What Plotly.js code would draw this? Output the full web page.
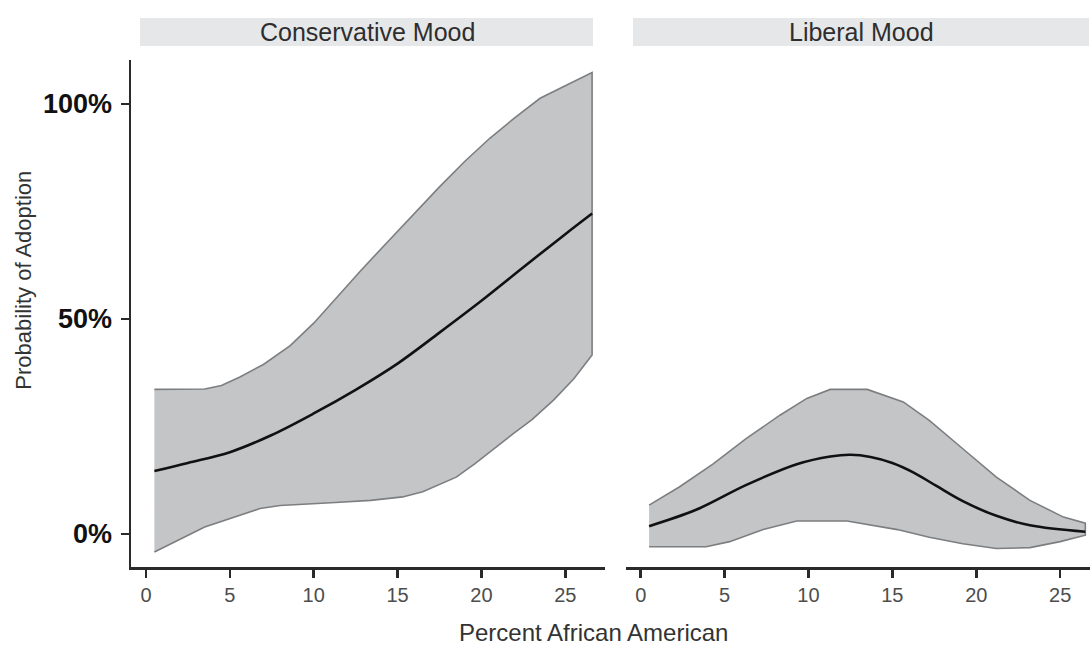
<!DOCTYPE html>
<html>
<head>
<meta charset="utf-8">
<script src="https://cdn.plot.ly/plotly-3.0.1.min.js"></script>
<style>html,body{margin:0;padding:0;background:#fff;}#chart{width:1090px;height:646px;}</style>
</head>
<body>
<div id="chart"></div>
<script>
// ---- Data ----
const panelTitles = ["Conservative Mood", "Liberal Mood"];
const xTicks = [0, 5, 10, 15, 20, 25];
const yTicks = [0, 50, 100];
const yTickLabels = ["0%", "50%", "100%"];

// Conservative Mood
const consUpperX = [0.5, 2, 3.5, 4.5, 5.6, 7, 8.6, 10, 11.2, 12.8, 14.5, 16, 17.5, 19, 20.5, 22, 23.5, 25, 26.6];
const consUpperY = [33.6, 33.6, 33.7, 34.5, 36.5, 39.4, 43.8, 49.0, 54.2, 61.2, 68.3, 74.6, 80.7, 86.6, 92.0, 96.8, 101.3, 104.2, 107.3];
const consLowerX = [0.5, 2, 3.5, 5, 6.8, 8, 9.2, 11.3, 13.4, 15.3, 16.5, 17.2, 18.5, 19.6, 21, 21.9, 23, 24.3, 25.5, 26.6];
const consLowerY = [-4.2, -1.3, 1.6, 3.5, 5.9, 6.6, 6.9, 7.3, 7.8, 8.6, 9.8, 10.9, 13.2, 16.3, 20.5, 23.3, 26.5, 31.1, 36.0, 41.6];
const consMidX = [0.5, 2.5, 5, 7.5, 10, 12.5, 15, 17.5, 20, 22.5, 25, 26.6];
const consMidY = [14.6, 16.5, 19.0, 23.0, 28.0, 33.5, 39.6, 46.8, 54.2, 62.0, 69.7, 74.5];

// Liberal Mood
const libUpperX = [0.5, 2.3, 4.3, 6.3, 8.3, 9.9, 11.3, 13.5, 15.65, 17.2, 19.2, 21.2, 23.2, 25.2, 26.5];
const libUpperY = [6.7, 10.9, 16.2, 22.2, 27.6, 31.5, 33.6, 33.6, 30.7, 26.4, 19.8, 13.2, 7.8, 3.9, 2.5];
const libLowerX = [0.5, 3.9, 5.3, 7.3, 9.3, 12.3, 15.3, 17.2, 19.2, 21.2, 23.2, 25.0, 26.5];
const libLowerY = [-3.0, -3.0, -1.8, 1.0, 3.0, 3.0, 1.0, -0.8, -2.3, -3.4, -3.2, -1.8, -0.3];
const libMidX = [0.5, 3.3, 6.3, 9.3, 11.3, 12.5, 13.7, 15.0, 16.3, 17.6, 19.2, 21.2, 23.2, 26.5];
const libMidY = [1.8, 5.6, 11.4, 16.2, 18.0, 18.4, 17.9, 16.5, 14.2, 11.2, 7.6, 4.2, 2.0, 0.5];

// ---- Layout geometry (pixels) ----
const W = 1090, H = 646;
const plotTop = 60, plotBottom = 566.7;
const mT = plotTop, mB = H - plotBottom;
const ph = plotBottom - plotTop;
const pxX = p => p / W;
const pxY = p => (plotBottom - p) / ph;

const ribbonFill = "#c4c5c7";
const ribbonLine = "#7d7e80";
const FONT = "Liberation Sans, Arial, sans-serif";

function ribbon(ux, uy, lx, ly, xa, ya) {
  return {
    x: ux.concat(lx.slice().reverse()),
    y: uy.concat(ly.slice().reverse()),
    xaxis: xa, yaxis: ya,
    type: "scatter", mode: "lines",
    fill: "toself", fillcolor: ribbonFill,
    line: {color: ribbonLine, width: 1.6},
    hoverinfo: "skip", showlegend: false
  };
}
function mid(x, y, xa, ya) {
  return {
    x: x, y: y, xaxis: xa, yaxis: ya,
    type: "scatter", mode: "lines",
    line: {color: "#111111", width: 2.6, shape: "spline", smoothing: 1},
    showlegend: false
  };
}

const data = [
  ribbon(consUpperX, consUpperY, consLowerX, consLowerY, "x", "y"),
  mid(consMidX, consMidY, "x", "y"),
  ribbon(libUpperX, libUpperY, libLowerX, libLowerY, "x2", "y2"),
  mid(libMidX, libMidY, "x2", "y2")
];

const xCommon = {
  tickmode: "array", tickvals: xTicks, ticks: "outside", ticklen: 8, tickwidth: 2.5, tickcolor: "#2a2a2a",
  showline: true, linecolor: "#2a2a2a", linewidth: 2.5,
  showgrid: false, zeroline: false,
  tickfont: {family: FONT, size: 20, color: "#4d4d4d"},
  fixedrange: true
};
const yRange = [-7.7, 110.2];

const layout = {
  width: W, height: H,
  margin: {l: 0, r: 0, t: mT, b: mB, pad: 0},
  paper_bgcolor: "#ffffff", plot_bgcolor: "#ffffff",
  showlegend: false,
  xaxis: Object.assign({}, xCommon, {domain: [pxX(131), pxX(605)], range: [-0.895, 27.37], anchor: "y"}),
  xaxis2: Object.assign({}, xCommon, {domain: [pxX(626), 1], range: [-0.876, 26.78], anchor: "y2"}),
  yaxis: {
    domain: [0, 1], range: yRange, anchor: "x",
    tickmode: "array", tickvals: yTicks, ticktext: yTickLabels,
    ticks: "outside", ticklen: 8, tickwidth: 2.5, tickcolor: "#2a2a2a",
    ticklabelstandoff: 3,
    showline: true, linecolor: "#2a2a2a", linewidth: 2.5,
    showgrid: false, zeroline: false,
    tickfont: {family: FONT, size: 27, color: "#111111", weight: "bold"},
    fixedrange: true
  },
  yaxis2: {
    domain: [0, 1], range: yRange, anchor: "x2",
    showticklabels: false, ticks: "", showline: false, showgrid: false, zeroline: false,
    fixedrange: true
  },
  shapes: [
    {type: "rect", xref: "paper", yref: "paper", x0: pxX(140), x1: pxX(593), y0: pxY(46), y1: pxY(18),
     fillcolor: "#e6e7e9", line: {width: 0}, layer: "below"},
    {type: "rect", xref: "paper", yref: "paper", x0: pxX(633), x1: pxX(1089), y0: pxY(46), y1: pxY(18),
     fillcolor: "#e6e7e9", line: {width: 0}, layer: "below"}
  ],
  annotations: [
    {text: panelTitles[0], xref: "paper", yref: "paper", x: pxX(367), y: pxY(32), showarrow: false,
     xanchor: "center", yanchor: "middle", font: {family: FONT, size: 25, color: "#2e2e2e"}},
    {text: panelTitles[1], xref: "paper", yref: "paper", x: pxX(861), y: pxY(32), showarrow: false,
     xanchor: "center", yanchor: "middle", font: {family: FONT, size: 25, color: "#2e2e2e"}},
    {text: "Percent African American", xref: "paper", yref: "paper", x: pxX(593), y: pxY(632.5), showarrow: false,
     xanchor: "center", yanchor: "middle", font: {family: FONT, size: 24, color: "#333333"}},
    {text: "Probability of Adoption", xref: "paper", yref: "paper", x: pxX(23.5), y: pxY(280), showarrow: false,
     textangle: -90, xanchor: "center", yanchor: "middle", font: {family: FONT, size: 22, color: "#333333"}}
  ]
};

Plotly.newPlot("chart", data, layout, {displayModeBar: false, staticPlot: true});
</script>
</body>
</html>
